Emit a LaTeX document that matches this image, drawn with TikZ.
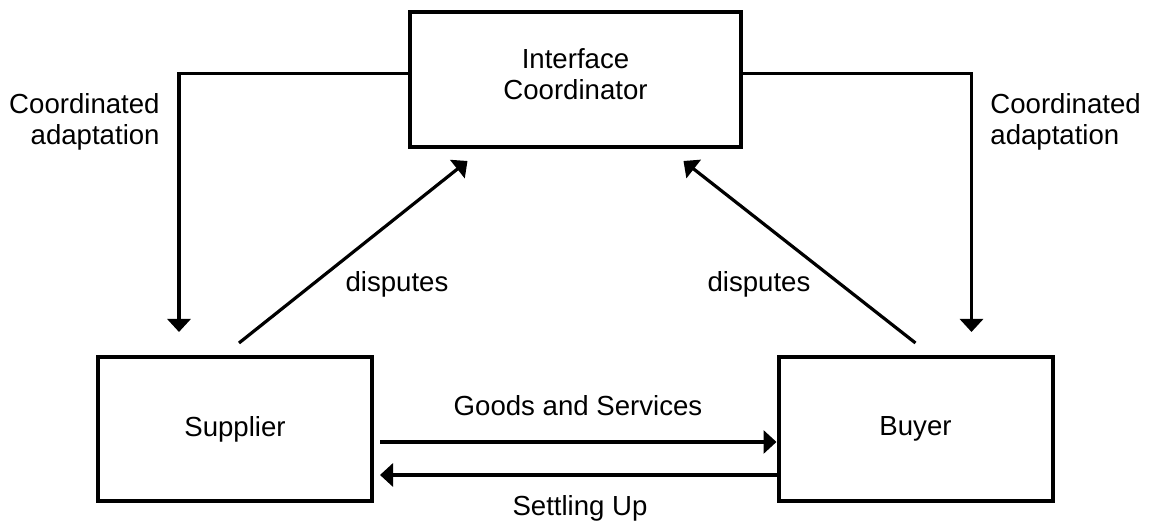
\documentclass[tikz,border=0pt]{standalone}
\usepackage{fontspec}
\setmainfont{Liberation Sans}
\usetikzlibrary{arrows.meta}

\begin{document}
\begin{tikzpicture}[x=0.5pt,y=0.5pt,
    font=\fontsize{13.8}{15.5}\selectfont,
    box/.style={draw,line width=2pt,inner sep=0pt,align=center},
    arr/.style={-{Triangle[length=6.5pt,width=11.5pt]},line width=1.6pt},
    lbl/.style={inner sep=0pt}]

    \useasboundingbox (0,0) rectangle (1152,522);

    % Parties
    \node[box,minimum width=165.5pt,minimum height=67.5pt,text depth=5pt] (coord) at (575.5,442.5)
        {Interface\\Coordinator};
    \node[box,minimum width=137pt,minimum height=72pt] (supplier) at (235,93) {Supplier};
    \node[box,minimum width=137pt,minimum height=72pt] (buyer) at (915.5,93) {Buyer};

    % Coordinated adaptation
    \draw[arr] ([yshift=3pt]coord.west) -| ([xshift=-28pt,yshift=11.5pt]supplier.north);
    \draw[arr] ([yshift=3pt]coord.east) -| ([xshift=28pt,yshift=11.5pt]buyer.north);
    \node[lbl,align=right,anchor=east] (adaptl) at (160,400) {Coordinated\\adaptation};
    \node[lbl,align=left,anchor=west] (adaptr) at (990,400) {Coordinated\\adaptation};

    % Disputes
    \draw[arr] ([xshift=2pt,yshift=6pt]supplier.north) -- ([xshift=-54pt,yshift=-6pt]coord.south);
    \draw[arr] ([yshift=6pt]buyer.north) -- ([xshift=54pt,yshift=-6pt]coord.south);
    \node[lbl] (displ) at (397,238) {disputes};
    \node[lbl] (dispr) at (759,238) {disputes};

    % Exchange
    \draw[arr] ([xshift=3pt,yshift=-6.5pt]supplier.east) -- ([yshift=-6.5pt]buyer.west);
    \draw[arr] ([yshift=-23pt]buyer.west) -- ([xshift=3pt,yshift=-23pt]supplier.east);
    \node[lbl] (goods) at (578,116) {Goods and Services};
    \node[lbl] (settle) at (580,14) {Settling Up};

\end{tikzpicture}
\end{document}
